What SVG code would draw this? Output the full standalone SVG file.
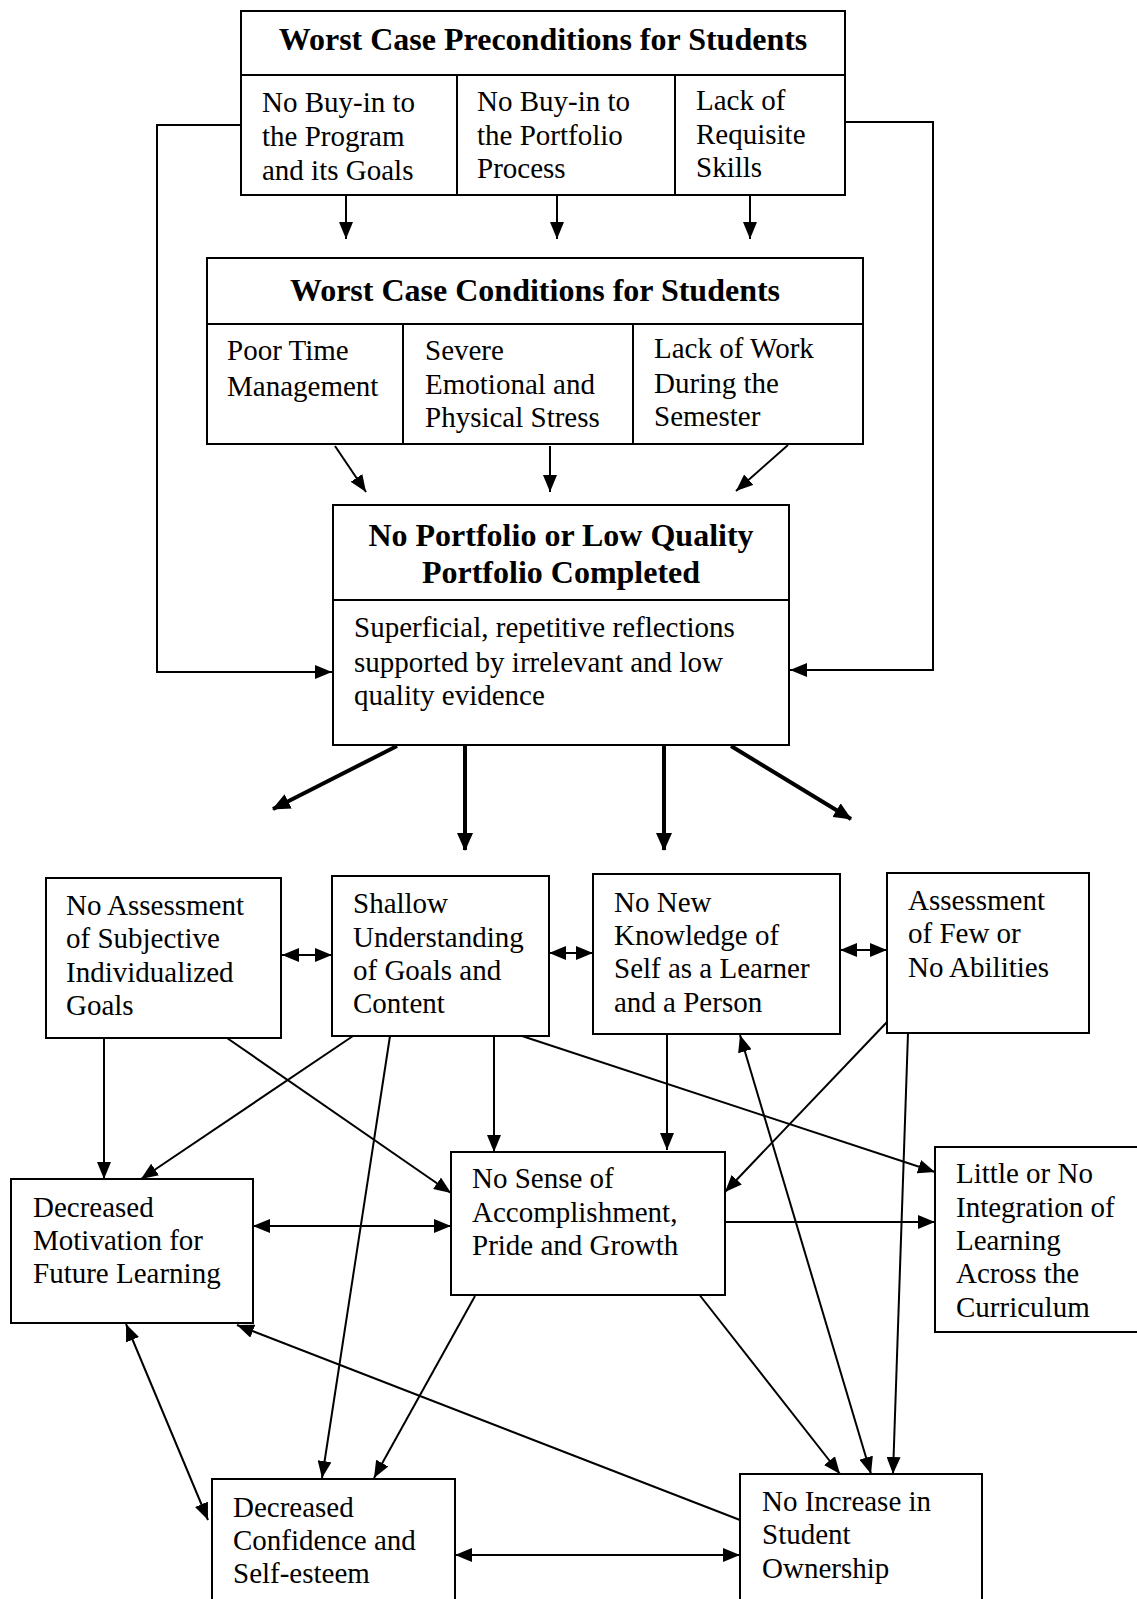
<svg xmlns="http://www.w3.org/2000/svg" width="1137" height="1599" viewBox="0 0 1137 1599">
<style>
.box{fill:#fff;stroke:#000;stroke-width:2}
.ln{stroke:#000;stroke-width:2;fill:none}
.t{font-family:"Liberation Serif","Times New Roman",serif;font-size:29px;fill:#000}
.b{font-family:"Liberation Serif","Times New Roman",serif;font-size:32px;font-weight:bold;fill:#000;text-anchor:middle}
.c{stroke:#000;stroke-width:2;fill:none;marker-end:url(#ah)}
.d{stroke:#000;stroke-width:2;fill:none;marker-end:url(#ah);marker-start:url(#ah)}
.k{stroke:#000;stroke-width:4;fill:none;marker-end:url(#ak)}
</style>
<defs>
<marker id="ah" markerUnits="userSpaceOnUse" markerWidth="17" markerHeight="14" refX="17" refY="7" orient="auto-start-reverse"><path d="M0,0 L17,7 L0,14 z" fill="#000"/></marker>
<marker id="ak" markerUnits="userSpaceOnUse" markerWidth="18" markerHeight="16" refX="17" refY="8" orient="auto"><path d="M0,0 L18,8 L0,16 z" fill="#000"/></marker>
</defs>
<rect width="1137" height="1599" fill="#fff"/>

<g id="connectors">
<line class="c" x1="346" y1="196" x2="346" y2="239"/>
<line class="c" x1="557" y1="196" x2="557" y2="239"/>
<line class="c" x1="750" y1="196" x2="750" y2="239"/>
<line class="c" x1="335" y1="446" x2="366" y2="492"/>
<line class="c" x1="550" y1="446" x2="550" y2="492"/>
<line class="c" x1="788" y1="445" x2="736" y2="491"/>
<polyline class="c" points="241,125 157,125 157,672 332,672"/>
<polyline class="c" points="845,122 933,122 933,670 790,670"/>
<line class="k" x1="397" y1="746" x2="273" y2="809"/>
<line class="k" x1="465" y1="746" x2="465" y2="850"/>
<line class="k" x1="664" y1="746" x2="664" y2="850"/>
<line class="k" x1="731" y1="746" x2="851" y2="819"/>
<line class="d" x1="282" y1="955" x2="332" y2="955"/>
<line class="d" x1="549" y1="953" x2="593" y2="953"/>
<line class="d" x1="840" y1="950" x2="887" y2="950"/>
<line class="c" x1="104" y1="1038" x2="104" y2="1179"/>
<line class="c" x1="227" y1="1038" x2="451" y2="1193"/>
<line class="c" x1="353" y1="1036" x2="141" y2="1179"/>
<line class="c" x1="390" y1="1036" x2="322" y2="1478"/>
<line class="c" x1="494" y1="1036" x2="494" y2="1152"/>
<line class="c" x1="522" y1="1036" x2="935" y2="1172"/>
<line class="c" x1="667" y1="1034" x2="667" y2="1150"/>
<line class="c" x1="887" y1="1022" x2="725" y2="1192"/>
<line class="c" x1="908" y1="1033" x2="893" y2="1474"/>
<line class="d" x1="740" y1="1035" x2="871" y2="1474"/>
<line class="c" x1="698" y1="1293" x2="840" y2="1474"/>
<line class="c" x1="475" y1="1296" x2="374" y2="1478"/>
<line class="d" x1="253" y1="1226" x2="451" y2="1226"/>
<line class="c" x1="725" y1="1222" x2="935" y2="1222"/>
<line class="d" x1="126" y1="1324" x2="208" y2="1520"/>
<line class="c" x1="740" y1="1520" x2="237" y2="1325"/>
<line class="d" x1="455" y1="1555" x2="740" y2="1555"/>
</g>

<g id="preconditions">
<rect class="box" x="241" y="11" width="604" height="184"/>
<line class="ln" x1="241" y1="75" x2="845" y2="75"/>
<line class="ln" x1="457" y1="75" x2="457" y2="195"/>
<line class="ln" x1="675" y1="75" x2="675" y2="195"/>
<text class="b" x="543" y="50">Worst Case Preconditions for Students</text>
<text class="t" x="262" y="112">No Buy-in to</text>
<text class="t" x="262" y="146">the Program</text>
<text class="t" x="262" y="180">and its Goals</text>
<text class="t" x="477" y="111">No Buy-in to</text>
<text class="t" x="477" y="145">the Portfolio</text>
<text class="t" x="477" y="178">Process</text>
<text class="t" x="696" y="110">Lack of</text>
<text class="t" x="696" y="144">Requisite</text>
<text class="t" x="696" y="177">Skills</text>
</g>

<g id="conditions">
<rect class="box" x="207" y="258" width="656" height="186"/>
<line class="ln" x1="207" y1="324" x2="863" y2="324"/>
<line class="ln" x1="403" y1="324" x2="403" y2="444"/>
<line class="ln" x1="633" y1="324" x2="633" y2="444"/>
<text class="b" x="535" y="301">Worst Case Conditions for Students</text>
<text class="t" x="227" y="360">Poor Time</text>
<text class="t" x="227" y="396">Management</text>
<text class="t" x="425" y="360">Severe</text>
<text class="t" x="425" y="394">Emotional and</text>
<text class="t" x="425" y="427">Physical Stress</text>
<text class="t" x="654" y="358">Lack of Work</text>
<text class="t" x="654" y="393">During the</text>
<text class="t" x="654" y="426">Semester</text>
</g>

<g id="portfolio">
<rect class="box" x="333" y="505" width="456" height="240"/>
<line class="ln" x1="333" y1="600" x2="789" y2="600"/>
<text class="b" x="561" y="546">No Portfolio or Low Quality</text>
<text class="b" x="561" y="583">Portfolio Completed</text>
<text class="t" x="354" y="637">Superficial, repetitive reflections</text>
<text class="t" x="354" y="672">supported by irrelevant and low</text>
<text class="t" x="354" y="705">quality evidence</text>
</g>

<g id="no-assessment">
<rect class="box" x="46" y="878" width="235" height="160"/>
<text class="t" x="66" y="915">No Assessment</text>
<text class="t" x="66" y="948">of Subjective</text>
<text class="t" x="66" y="982">Individualized</text>
<text class="t" x="66" y="1015">Goals</text>
</g>

<g id="shallow">
<rect class="box" x="332" y="876" width="217" height="160"/>
<text class="t" x="353" y="913">Shallow</text>
<text class="t" x="353" y="947">Understanding</text>
<text class="t" x="353" y="980">of Goals and</text>
<text class="t" x="353" y="1013">Content</text>
</g>

<g id="no-new-knowledge">
<rect class="box" x="593" y="874" width="247" height="160"/>
<text class="t" x="614" y="912">No New</text>
<text class="t" x="614" y="945">Knowledge of</text>
<text class="t" x="614" y="978">Self as a Learner</text>
<text class="t" x="614" y="1012">and a Person</text>
</g>

<g id="few-abilities">
<rect class="box" x="887" y="873" width="202" height="160"/>
<text class="t" x="908" y="910">Assessment</text>
<text class="t" x="908" y="943">of Few or</text>
<text class="t" x="908" y="977">No Abilities</text>
</g>

<g id="motivation">
<rect class="box" x="11" y="1179" width="242" height="144"/>
<text class="t" x="33" y="1217">Decreased</text>
<text class="t" x="33" y="1250">Motivation for</text>
<text class="t" x="33" y="1283">Future Learning</text>
</g>

<g id="accomplishment">
<rect class="box" x="451" y="1152" width="274" height="143"/>
<text class="t" x="472" y="1188">No Sense of</text>
<text class="t" x="472" y="1222">Accomplishment,</text>
<text class="t" x="472" y="1255">Pride and Growth</text>
</g>

<g id="integration">
<rect class="box" x="935" y="1147" width="205" height="185"/>
<text class="t" x="956" y="1183">Little or No</text>
<text class="t" x="956" y="1217">Integration of</text>
<text class="t" x="956" y="1250">Learning</text>
<text class="t" x="956" y="1283">Across the</text>
<text class="t" x="956" y="1317">Curriculum</text>
</g>

<g id="confidence">
<rect class="box" x="212" y="1479" width="243" height="140"/>
<text class="t" x="233" y="1517">Decreased</text>
<text class="t" x="233" y="1550">Confidence and</text>
<text class="t" x="233" y="1583">Self-esteem</text>
</g>

<g id="ownership">
<rect class="box" x="740" y="1474" width="242" height="145"/>
<text class="t" x="762" y="1511">No Increase in</text>
<text class="t" x="762" y="1544">Student</text>
<text class="t" x="762" y="1578">Ownership</text>
</g>
</svg>
